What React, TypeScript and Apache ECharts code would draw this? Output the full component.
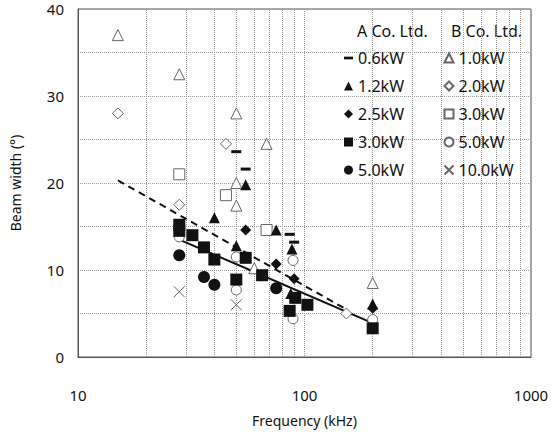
import React, { useEffect, useRef } from "react";
import * as echarts from "echarts";

// ---- data (frequency kHz, beam width deg) ----
const xTicks = [10, 100, 1000];
const yTicks = [0, 10, 20, 30, 40];
const minorFreq = [20, 30, 40, 50, 60, 70, 80, 90, 200, 300, 400, 500, 600, 700, 800, 900];

const A06 = [[50, 23.6], [55, 21.6], [86, 14.1], [90, 13.2]];
const A12 = [[55, 19.8], [40, 16.0], [75, 14.6], [50, 12.8], [88, 12.4], [87, 7.3], [200, 6.1]];
const A25 = [[55, 14.6], [75, 10.7], [90, 9.0], [200, 5.6]];
const A30 = [[28, 15.2], [28, 14.5], [32, 14.0], [36, 12.6], [40, 11.2], [55, 11.4], [50, 8.9], [65, 9.4], [91, 6.8], [103, 6.0], [86, 5.3], [200, 3.3]];
const A50 = [[28, 11.7], [36, 9.2], [40, 8.3], [75, 7.9]];

const B10 = [[15, 37], [28, 32.5], [50, 28], [68, 24.5], [50, 20], [50, 17.4], [60, 10.2], [200, 8.5]];
const B20 = [[15, 28], [45, 24.5], [28, 17.5], [153, 5.0]];
const B30 = [[28, 21], [45, 18.6], [68, 14.6]];
const B50 = [[28, 13.8], [50, 11.5], [89, 11.1], [50, 7.7], [89, 4.4], [200, 4.3]];
const B100 = [[28, 7.5], [50, 6.0]];

const fitA = [[28, 13.5], [200, 3.9]];
const fitB = [[15, 20.3], [150, 5.6]];

const FONT = "Noto Sans";
const BAR_ICON = "path://M0,0H10V3H0Z";
const X_ICON = "path://M0,0L10,10M10,0L0,10";

export default function App() {
  const ref = useRef<HTMLDivElement>(null);
  useEffect(() => {
    if (!ref.current) return;
    const chart = echarts.init(ref.current, undefined, { renderer: "svg" });
    const filled = { color: "#111", opacity: 1 };
    const open = { color: "#fff", borderColor: "#666", borderWidth: 1, opacity: 1 };
    const sc = (name: string, data: number[][], symbol: string, size: any, style: any) => ({
      type: "scatter",
      name,
      data,
      symbol,
      symbolSize: size,
      itemStyle: style,
      z: 3,
    });
    const legendText = { fontSize: 16, color: "#111", fontFamily: FONT, lineHeight: 16 };
    chart.setOption({
      animation: false,
      backgroundColor: "#fff",
      grid: { left: 77, right: 29, top: 9, bottom: 71, show: true, borderColor: "#555", borderWidth: 1 },
      xAxis: {
        type: "log",
        logBase: 10,
        min: 10,
        max: 1000,
        name: "Frequency (kHz)",
        nameLocation: "middle",
        nameGap: 56,
        nameTextStyle: { fontSize: 14, color: "#111", fontFamily: FONT },
        axisLine: { show: true, lineStyle: { color: "#555" } },
        axisTick: { show: false },
        axisLabel: {
          fontSize: 15,
          color: "#111",
          fontFamily: FONT,
          margin: 30,
          formatter: (v: number) => (xTicks.includes(Math.round(v)) ? String(Math.round(v)) : ""),
        },
        splitLine: { show: true, lineStyle: { type: "dotted", color: "#999" } },
      },
      yAxis: {
        type: "value",
        min: 0,
        max: 40,
        interval: 5,
        name: "Beam width (°)",
        nameLocation: "middle",
        nameGap: 56,
        nameTextStyle: { fontSize: 14, color: "#111", fontFamily: FONT },
        axisLine: { show: true, lineStyle: { color: "#555" } },
        axisTick: { show: false },
        axisLabel: {
          fontSize: 15,
          color: "#111",
          fontFamily: FONT,
          margin: 14,
          formatter: (v: number) => (yTicks.includes(v) ? String(v) : ""),
        },
        splitLine: { show: true, lineStyle: { type: "dotted", color: "#999" } },
      },
      legend: [
        {
          orient: "vertical",
          left: 339,
          top: 45,
          itemWidth: 9,
          itemHeight: 9,
          itemGap: 12,
          textStyle: legendText,
          formatter: (n: string) => n.split("|")[1],
          data: [
            { name: "A|0.6kW", icon: BAR_ICON },
            { name: "A|1.2kW" },
            { name: "A|2.5kW" },
            { name: "A|3.0kW" },
            { name: "A|5.0kW" },
          ],
        },
        {
          orient: "vertical",
          left: 437,
          top: 45,
          itemWidth: 9,
          itemHeight: 9,
          itemGap: 12,
          textStyle: legendText,
          formatter: (n: string) => n.split("|")[1],
          data: [
            { name: "B|1.0kW" },
            { name: "B|2.0kW" },
            { name: "B|3.0kW" },
            { name: "B|5.0kW" },
            { name: "B|10.0kW" },
          ],
        },
      ],
      graphic: [
        { type: "text", left: 357, top: 23, style: { text: "A Co. Ltd.", fontSize: 16, fill: "#111", fontFamily: FONT } },
        { type: "text", left: 451, top: 23, style: { text: "B Co. Ltd.", fontSize: 16, fill: "#111", fontFamily: FONT } },
      ],
      series: [
        {
          type: "line",
          name: "fitB",
          data: fitB,
          symbol: "none",
          lineStyle: { color: "#111", width: 2, type: [7, 5] },
          z: 2,
          markLine: {
            silent: true,
            symbol: "none",
            label: { show: false },
            lineStyle: { type: "dotted", color: "#999", width: 1 },
            data: minorFreq.map((f) => ({ xAxis: f })),
            z: 1,
          },
        },
        {
          type: "line",
          name: "fitA",
          data: fitA,
          symbol: "none",
          lineStyle: { color: "#111", width: 2 },
          z: 2,
        },
        sc("B|1.0kW", B10, "triangle", 11, open),
        sc("B|2.0kW", B20, "diamond", 11, open),
        sc("B|3.0kW", B30, "rect", 11, open),
        sc("B|5.0kW", B50, "circle", 10, open),
        sc("B|10.0kW", B100, X_ICON, 11, { color: "none", borderColor: "#666", borderWidth: 1, opacity: 1 }),
        sc("A|0.6kW", A06, "rect", [10, 3], filled),
        sc("A|1.2kW", A12, "triangle", 11, filled),
        sc("A|2.5kW", A25, "diamond", 11, filled),
        sc("A|3.0kW", A30, "rect", 12, filled),
        sc("A|5.0kW", A50, "circle", 12, filled),
      ],
    });
    return () => chart.dispose();
  }, []);
  return <div ref={ref} style={{ position: "fixed", left: 0, top: 0, width: 560, height: 432 }} />;
}
